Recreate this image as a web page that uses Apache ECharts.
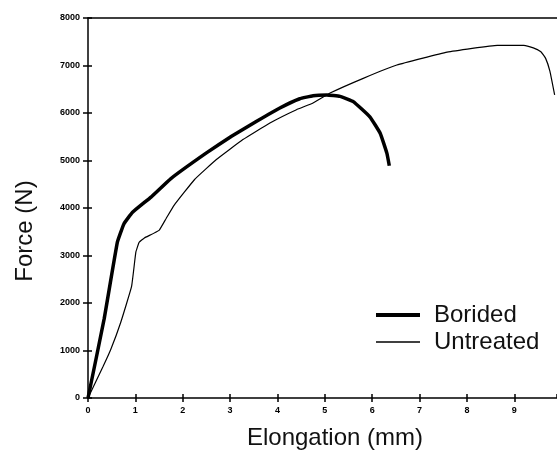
<!DOCTYPE html>
<html>
<head>
    <meta charset="utf-8" />
    <title>Force vs Elongation</title>
    <style type="text/css">
        html, body {
            margin: 0;
            padding: 0;
            background: #fff;
        }

        #chart {
            width: 557px;
            height: 452px;
        }
    </style>
    <script src="https://cdn.jsdelivr.net/npm/echarts@6.0.0/dist/echarts.min.js"></script>
</head>
<body>
    <div id="chart"></div>
    <script type="text/javascript">
        // 数据
        var boridedX = [0, 0.34, 0.62, 0.76, 0.94, 1.33, 1.75, 2.5, 3.03, 3.56, 4.05, 4.47, 4.75, 5.04, 5.32, 5.6, 5.95, 6.17, 6.31, 6.36];
        var boridedY = [0, 1660, 3280, 3670, 3910, 4230, 4620, 5160, 5510, 5825, 6105, 6300, 6365, 6380, 6350, 6240, 5920, 5570, 5150, 4890];

        var untreatedX = [0, 0.32, 0.48, 0.69, 0.92, 1.01, 1.08, 1.19, 1.5, 1.65, 1.82, 2.25, 2.71, 3.27, 3.84, 4.4, 4.75, 5.11, 5.81, 6.52, 7.58, 8.64, 9.2, 9.4, 9.56, 9.66, 9.75, 9.85];
        var untreatedY = [0, 667, 1020, 1590, 2350, 3070, 3280, 3370, 3530, 3780, 4060, 4600, 5020, 5440, 5790, 6070, 6210, 6420, 6730, 7010, 7280, 7425, 7425, 7370, 7290, 7150, 6880, 6380];

        var seriesNames = ['Borided', 'Untreated'];
        var xTicks = [0, 1, 2, 3, 4, 5, 6, 7, 8, 9];
        var yTicks = [0, 1000, 2000, 3000, 4000, 5000, 6000, 7000, 8000];

        function pairs(xs, ys) {
            var out = [];
            for (var i = 0; i < xs.length; i++) {
                out.push([xs[i], ys[i]]);
            }
            return out;
        }

        var chart = echarts.init(document.getElementById('chart'), null, { renderer: 'canvas' });

        var tickFont = { fontFamily: 'Liberation Sans', fontWeight: 'bold', fontSize: 9, color: '#000' };
        var legendText = { fontFamily: 'Liberation Sans', fontSize: 24, color: '#111', padding: [0, 0, 0, 9] };
        var XMAX = 9.9;

        var option = {
            animation: false,
            backgroundColor: '#fff',
            grid: { left: 88, top: 18, right: 0, bottom: 54 },
            // 两个图例，分别控制线的粗细
            legend: [
                {
                    left: 371, top: 298,
                    icon: 'rect', itemWidth: 44, itemHeight: 4,
                    data: [seriesNames[0]],
                    textStyle: legendText
                },
                {
                    left: 371, top: 325,
                    icon: 'rect', itemWidth: 44, itemHeight: 1.3,
                    data: [seriesNames[1]],
                    textStyle: legendText
                }
            ],
            xAxis: [
                {
                    type: 'value', min: 0, max: XMAX, interval: 1,
                    axisLine: { lineStyle: { color: '#000', width: 1.5 } },
                    axisTick: { show: true, length: 4, lineStyle: { color: '#000', width: 1.5 } },
                    axisLabel: Object.assign({
                        margin: 8,
                        showMaxLabel: false,
                        formatter: function (v) {
                            return xTicks.indexOf(v) >= 0 ? String(v) : '';
                        }
                    }, tickFont),
                    splitLine: { show: false }
                },
                {
                    // 向内的刻度（十字刻度）
                    type: 'value', min: 0, max: XMAX, interval: 1, position: 'bottom',
                    axisLine: { show: false },
                    axisTick: { show: true, inside: true, length: 4, lineStyle: { color: '#000', width: 1.5 } },
                    axisLabel: { show: false },
                    splitLine: { show: false }
                },
                {
                    // 顶部边线
                    type: 'value', min: 0, max: XMAX, position: 'top',
                    axisLine: { show: true, lineStyle: { color: '#000', width: 1.5 } },
                    axisTick: { show: false },
                    axisLabel: { show: false },
                    splitLine: { show: false }
                }
            ],
            yAxis: [
                {
                    type: 'value', min: 0, max: 8000, interval: 1000,
                    axisLine: { show: true, lineStyle: { color: '#000', width: 1.5 } },
                    axisTick: { show: true, length: 5, lineStyle: { color: '#000', width: 1.5 } },
                    axisLabel: Object.assign({
                        margin: 8,
                        formatter: function (v) {
                            return yTicks.indexOf(v) >= 0 ? String(v) : '';
                        }
                    }, tickFont),
                    splitLine: { show: false }
                },
                {
                    type: 'value', min: 0, max: 8000, interval: 1000, position: 'left',
                    axisLine: { show: false },
                    axisTick: { show: true, inside: true, length: 4, lineStyle: { color: '#000', width: 1.5 } },
                    axisLabel: { show: false },
                    splitLine: { show: false }
                }
            ],
            graphic: [
                {
                    type: 'text', x: 335, y: 438,
                    style: {
                        text: 'Elongation (mm)', fill: '#111',
                        font: '24px "Liberation Sans"', align: 'center', verticalAlign: 'middle'
                    }
                },
                {
                    type: 'text', x: 25, y: 231, rotation: Math.PI / 2,
                    style: {
                        text: 'Force (N)', fill: '#111',
                        font: '24px "Liberation Sans"', align: 'center', verticalAlign: 'middle'
                    }
                }
            ],
            series: [
                {
                    name: seriesNames[0],
                    type: 'line',
                    symbol: 'none',
                    smooth: 0.1,
                    data: pairs(boridedX, boridedY),
                    itemStyle: { color: '#000' },
                    lineStyle: { color: '#000', width: 3.5 }
                },
                {
                    name: seriesNames[1],
                    type: 'line',
                    symbol: 'none',
                    smooth: 0.1,
                    data: pairs(untreatedX, untreatedY),
                    itemStyle: { color: '#000' },
                    lineStyle: { color: '#000', width: 1.2 }
                }
            ]
        };

        chart.setOption(option);
    </script>
</body>
</html>
